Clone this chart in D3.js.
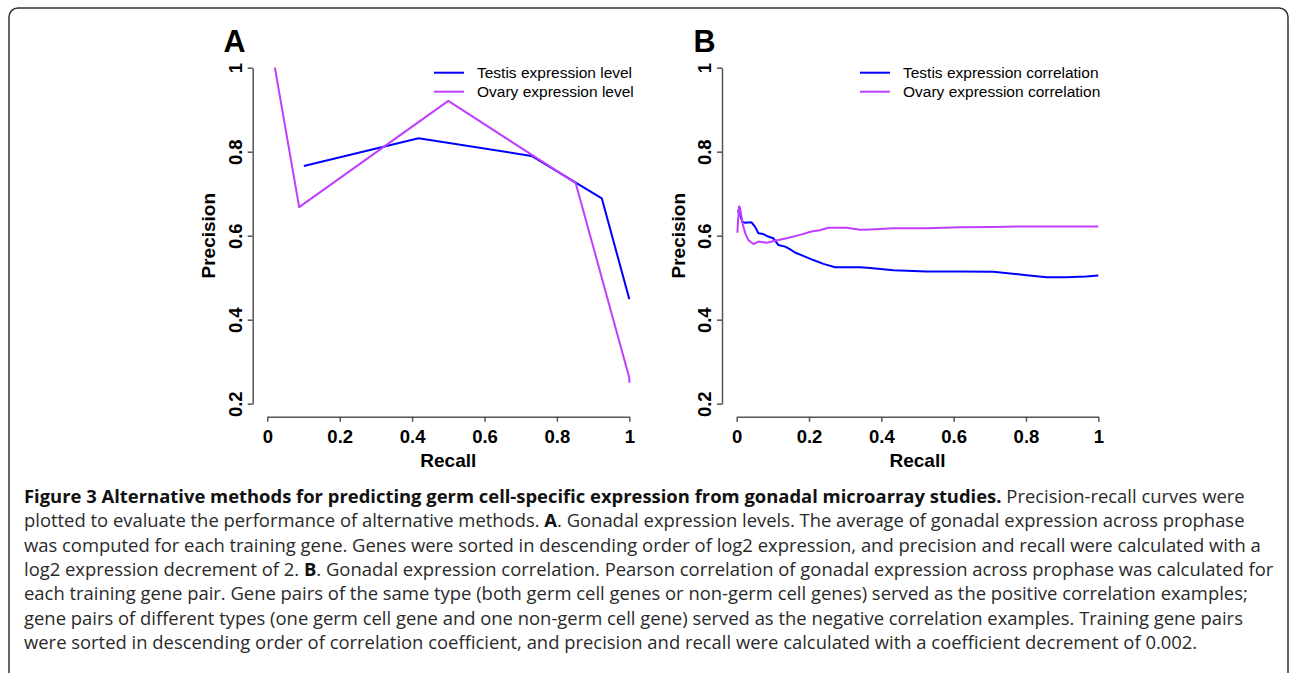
<!DOCTYPE html>
<html>
<head>
<meta charset="utf-8">
<script src="https://cdn.jsdelivr.net/npm/d3@7"></script>
<style>
  html, body { margin: 0; padding: 0; background: #fff; }
  svg { display: block; }
  .axis text { font-family: "Liberation Sans", Arial, sans-serif; font-weight: bold; font-size: 18.5px; fill: #000; }
  .axis path, .axis line { stroke: #555; stroke-width: 1.5; }
  .lab { font-family: "Liberation Sans", Arial, sans-serif; font-weight: bold; font-size: 19px; }
  .leg { font-family: "Liberation Sans", Arial, sans-serif; font-size: 15.5px; }
  .cap { font-family: "Open Sans", sans-serif; font-size: 17.5px; fill: #2a2a2a; }
</style>
</head>
<body>
<svg id="fig" width="1290" height="673"></svg>
<script>
// tick values
const recallTicks = [0, 0.2, 0.4, 0.6, 0.8, 1]
const precisionTicks = [0.2, 0.4, 0.6, 0.8, 1]

// panel A: expression level
const testisLevelRecall = [0.101, 0.418, 0.730, 0.924, 1.0]
const testisLevelPrecision = [0.766, 0.832, 0.790, 0.689, 0.449]
const ovaryLevelRecall = [0.021, 0.088, 0.500, 0.852, 1.0, 1.0]
const ovaryLevelPrecision = [1.0, 0.668, 0.921, 0.725, 0.262, 0.250]

// panel B: expression correlation
const testisCorrRecall = [0.004, 0.007, 0.011, 0.016, 0.022, 0.041, 0.051, 0.060, 0.074, 0.087, 0.101, 0.115, 0.134, 0.147, 0.161, 0.184, 0.212, 0.240, 0.272, 0.304, 0.341, 0.369, 0.433, 0.525, 0.618, 0.710, 0.756, 0.802, 0.857, 0.912, 0.967, 1.0]
const testisCorrPrecision = [0.655, 0.669, 0.645, 0.633, 0.631, 0.632, 0.621, 0.606, 0.604, 0.598, 0.594, 0.578, 0.574, 0.568, 0.560, 0.552, 0.542, 0.533, 0.525, 0.525, 0.525, 0.523, 0.518, 0.515, 0.515, 0.514, 0.510, 0.506, 0.501, 0.501, 0.503, 0.505]
const ovaryCorrRecall = [0.002, 0.004, 0.007, 0.010, 0.016, 0.024, 0.032, 0.046, 0.060, 0.083, 0.106, 0.138, 0.175, 0.207, 0.230, 0.253, 0.304, 0.341, 0.369, 0.433, 0.525, 0.618, 0.710, 0.802, 0.894, 1.0]
const ovaryCorrPrecision = [0.607, 0.640, 0.669, 0.662, 0.629, 0.605, 0.590, 0.580, 0.586, 0.583, 0.588, 0.594, 0.602, 0.610, 0.613, 0.619, 0.619, 0.614, 0.615, 0.618, 0.618, 0.620, 0.621, 0.622, 0.622, 0.622]

const captionLines = [
  [['b', 'Figure 3 Alternative methods for predicting germ cell-specific expression from gonadal microarray studies.'], ['n', ' Precision-recall curves were']],
  [['n', 'plotted to evaluate the performance of alternative methods. '], ['b', 'A'], ['n', '. Gonadal expression levels. The average of gonadal expression across prophase']],
  [['n', 'was computed for each training gene. Genes were sorted in descending order of log2 expression, and precision and recall were calculated with a']],
  [['n', 'log2 expression decrement of 2. '], ['b', 'B'], ['n', '. Gonadal expression correlation. Pearson correlation of gonadal expression across prophase was calculated for']],
  [['n', 'each training gene pair. Gene pairs of the same type (both germ cell genes or non-germ cell genes) served as the positive correlation examples;']],
  [['n', 'gene pairs of different types (one germ cell gene and one non-germ cell gene) served as the negative correlation examples. Training gene pairs']],
  [['n', 'were sorted in descending order of correlation coefficient, and precision and recall were calculated with a coefficient decrement of 0.002.']]
]
const captionEnds = [1263, 1236, 1262, 1263, 1267, 1265, 1047]

const blue = '#0000ff'
const purple = '#bf3eff'

const svg = d3.select('#fig')

// outer frame (bottom edge runs off the page)
svg.append('rect')
  .attr('x', 9).attr('y', 8).attr('width', 1279).attr('height', 720).attr('rx', 9)
  .attr('fill', 'none').attr('stroke', '#333').attr('stroke-width', 1.5)

function zip(xs, ys) { return xs.map((x, i) => ({r: x, p: ys[i]})) }

function drawPanel(o) {
  const g = svg.append('g')

  const x = d3.scaleLinear().domain([0, 1]).range([o.x0, o.x1])
  const y = d3.scaleLinear().domain([0.2, 1]).range([403.7, 67.7])

  const fmt = d => (d === 0 || d === 1) ? String(d) : d3.format('.1f')(d)

  // x axis
  const xa = g.append('g').attr('class', 'axis')
    .attr('transform', 'translate(0,416.7)')
    .call(d3.axisBottom(x).tickValues(recallTicks).tickFormat(fmt).tickSize(5).tickSizeOuter(0))
  xa.selectAll('text').attr('dy', null).attr('y', 26.6)

  // y axis, labels turned like R
  const ya = g.append('g').attr('class', 'axis')
    .attr('transform', 'translate(' + o.ax + ',0)')
    .call(d3.axisLeft(y).tickValues(precisionTicks).tickFormat(fmt).tickSize(5).tickSizeOuter(0))
  ya.selectAll('text')
    .attr('x', null).attr('dy', null)
    .attr('text-anchor', 'middle')
    .attr('transform', 'translate(-11,0) rotate(-90)')

  g.append('text').attr('class', 'lab')
    .attr('x', (o.x0 + o.x1) / 2).attr('y', 466.7)
    .attr('text-anchor', 'middle').text('Recall')
  g.append('text').attr('class', 'lab')
    .attr('text-anchor', 'middle')
    .attr('transform', 'translate(' + (o.ax - 37.5) + ',235.7) rotate(-90)')
    .text('Precision')

  g.append('text')
    .attr('x', o.letterX).attr('y', 52.3)
    .attr('font-family', '"Liberation Sans", Arial, sans-serif')
    .attr('font-weight', 'bold').attr('font-size', 30.5)
    .text(o.letter)

  const line = d3.line().x(d => x(d.r)).y(d => y(d.p))
  o.series.forEach(s => {
    g.append('path')
      .datum(zip(s.r, s.p))
      .attr('d', line)
      .attr('fill', 'none')
      .attr('stroke', s.color)
      .attr('stroke-width', 2)
      .attr('stroke-linejoin', 'round')
  })

  // legend
  o.series.forEach((s, i) => {
    const ly = 72.7 + i * 19
    g.append('line')
      .attr('x1', o.legX).attr('x2', o.legX + 30)
      .attr('y1', ly).attr('y2', ly)
      .attr('stroke', s.color).attr('stroke-width', 2)
    g.append('text').attr('class', 'leg')
      .attr('x', o.legX + 43).attr('y', ly + 5.5)
      .text(s.name)
  })
}

drawPanel({
  letter: 'A', letterX: 223.5, ax: 252.7, x0: 267.3, x1: 629.3, legX: 434,
  series: [
    {name: 'Testis expression level', r: testisLevelRecall, p: testisLevelPrecision, color: blue},
    {name: 'Ovary expression level', r: ovaryLevelRecall, p: ovaryLevelPrecision, color: purple}
  ]
})

drawPanel({
  letter: 'B', letterX: 693.5, ax: 722, x0: 736.7, x1: 1098.3, legX: 860,
  series: [
    {name: 'Testis expression correlation', r: testisCorrRecall, p: testisCorrPrecision, color: blue},
    {name: 'Ovary expression correlation', r: ovaryCorrRecall, p: ovaryCorrPrecision, color: purple}
  ]
})

// caption: one common horizontal squeeze so glyphs look alike on every line
const capTexts = captionLines.map((parts, i) => {
  const t = svg.append('text').attr('class', 'cap').attr('x', 0).attr('y', 0)
  parts.forEach(([w, s]) => {
    t.append('tspan')
      .attr('font-weight', w === 'b' ? 'bold' : null)
      .attr('fill', w === 'b' ? '#111' : null)
      .text(s)
  })
  return t
})
const ratios = capTexts.map((t, i) => (captionEnds[i] - 24) / t.node().getComputedTextLength())
const sx = d3.median(ratios)
capTexts.forEach((t, i) => {
  t.attr('transform', 'translate(24,' + (503 + i * 24.3) + ') scale(' + sx + ',1)')
})
</script>
</body>
</html>
